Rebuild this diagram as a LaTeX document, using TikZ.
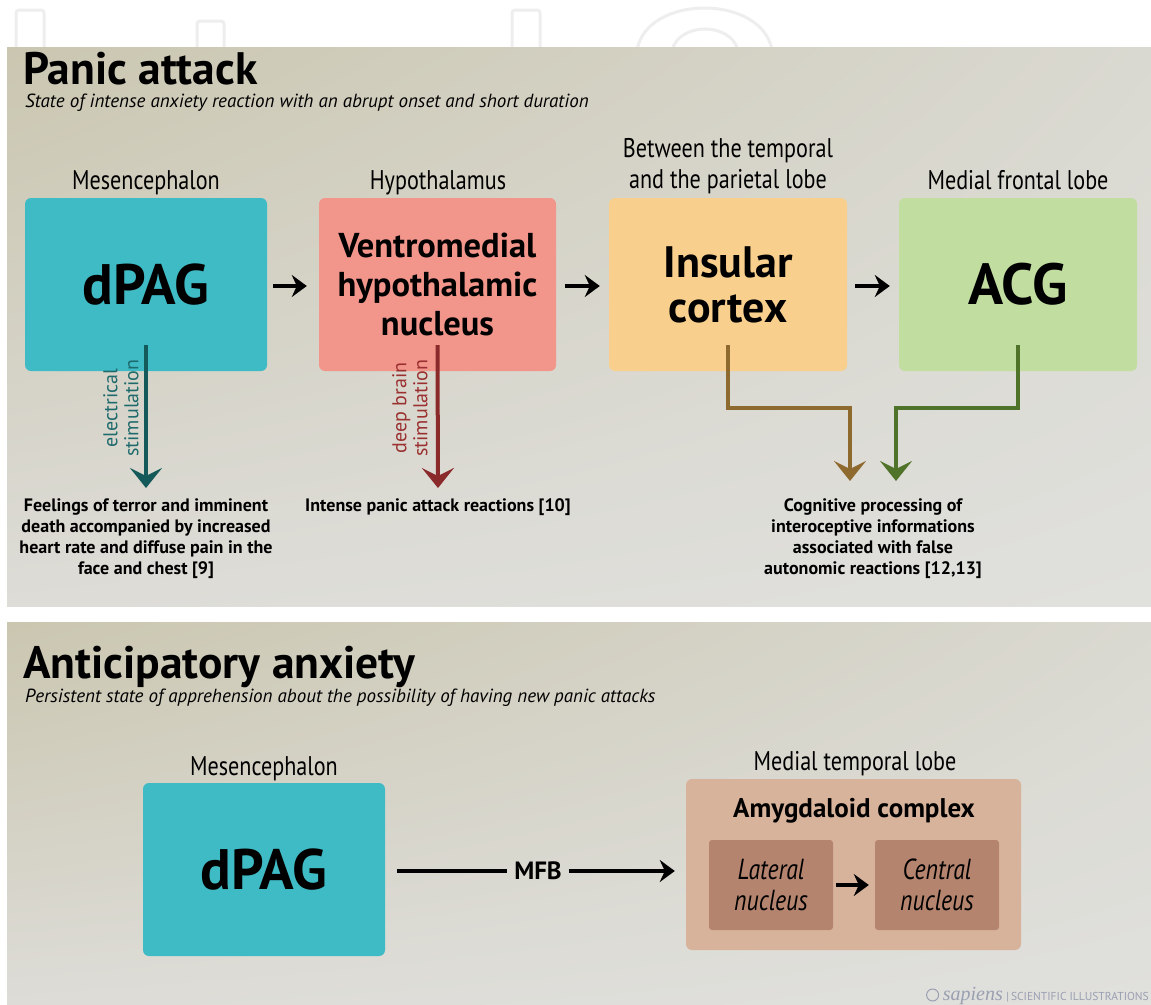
\documentclass[tikz,border=0pt]{standalone}
\usepackage{fontspec}
\setmainfont{PT Sans}
\newfontfamily\condfont[FakeStretch=0.82]{PT Sans}
\usetikzlibrary{arrows.meta,shadings}
\definecolor{cteal}{HTML}{3FBBC6}
\definecolor{csalmon}{HTML}{F2958B}
\definecolor{corange}{HTML}{F8CF8D}
\definecolor{cgreen}{HTML}{C1DD9F}
\definecolor{camyg}{HTML}{D8B39B}
\definecolor{cnuc}{HTML}{B5846E}
\definecolor{ateal}{HTML}{155A5B}
\definecolor{ared}{HTML}{8A2A2A}
\definecolor{abrown}{HTML}{8F6A2F}
\definecolor{agreen}{HTML}{4F7328}
\definecolor{tteal}{HTML}{1E6A6C}
\definecolor{tred}{HTML}{9A3030}
\definecolor{pA}{HTML}{CAC6B0}
\definecolor{pB}{HTML}{DAD9D1}
\definecolor{pC}{HTML}{DDDCD7}
\definecolor{pD}{HTML}{E0E0DD}
\definecolor{wm}{HTML}{EEEEEE}
\definecolor{credit}{HTML}{9AA0B2}
\tikzset{
  box/.style={rounded corners=6pt, inner sep=0pt, align=center, text=black},
  head/.style={font=\condfont\fontsize{27}{31}\selectfont, align=center, inner sep=0pt, text=black},
  res/.style={font=\bfseries\fontsize{18}{21}\selectfont, align=center, inner sep=0pt, text=black},
  vlab/.style={rotate=90, font=\fontsize{20}{21}\selectfont, align=center, inner sep=0pt},
  vline/.style={line width=4pt, -{Stealth[length=20pt, width=32pt, inset=8pt]}},
  blk/.style={line width=3.5pt, -{Stealth[length=15pt, width=22pt, inset=5pt]}},
}
\begin{document}
\begin{tikzpicture}[x=1pt,y=-1pt]
\useasboundingbox (0,0) rectangle (1151,1004);
\fill[white] (0,0) rectangle (1151,1004);
% faint watermark
\begin{scope}[draw=wm, line width=3pt]
\draw[rounded corners=3pt] (16,50) -- (16,10) -- (44,10) -- (44,50);
\draw[rounded corners=3pt] (197,50) -- (197,21) -- (224,21) -- (224,50);
\draw[rounded corners=3pt] (512,50) -- (512,10) -- (540,10) -- (540,50);
\draw (637,50) .. controls (647,-6) and (762,-6) .. (772,50);
\draw (672,50) .. controls (680,22) and (730,22) .. (738,50);
\end{scope}
% panels
\shade[upper left=pA, upper right=pB, lower left=pC, lower right=pD] (7,47) rectangle (1151,606);
\shade[upper left=pA, upper right=pB, lower left=pC, lower right=pD] (7,622) rectangle (1151,1004);

% ---------- Panic attack ----------
\node[anchor=base west, inner sep=0pt, font=\bfseries\fontsize{45.5}{45}\selectfont] (t1) at (23,84) {Panic attack};
\node[anchor=base west, inner sep=0pt, font=\itshape\fontsize{19}{19}\selectfont] (s1) at (25,107) {State of intense anxiety reaction with an abrupt onset and short duration};

\node[box, fill=cteal, minimum width=242pt, minimum height=173pt, font=\bfseries\fontsize{57}{57}\selectfont] (dpag) at (146,284.5) {dPAG};
\node[box, fill=csalmon, minimum width=237pt, minimum height=173pt, font=\bfseries\fontsize{34.5}{39}\selectfont] (vmh) at (437.5,284.5) {Ventromedial\\hypothalamic\\nucleus};
\node[box, fill=corange, minimum width=238pt, minimum height=173pt, font=\bfseries\fontsize{44}{45}\selectfont] (ins) at (728,284.5) {Insular\\cortex};
\node[box, fill=cgreen, minimum width=238pt, minimum height=173pt, font=\bfseries\fontsize{58}{58}\selectfont] (acg) at (1018,284.5) {ACG};

\node[head, anchor=base] (h1) at (146,189) {Mesencephalon};
\node[head, anchor=base] (h2) at (438,189) {Hypothalamus};
\node[head, anchor=south] (h3) at (728,194) {Between the temporal\\and the parietal lobe};
\node[head, anchor=base] (h4) at (1018,189) {Medial frontal lobe};

\draw[blk, shorten <=6pt, shorten >=12pt] ([yshift=-1.5pt]dpag.east) -- ([yshift=-1.5pt]vmh.west);
\draw[blk, shorten <=9pt, shorten >=9pt] ([yshift=-1.5pt]vmh.east) -- ([yshift=-1.5pt]ins.west);
\draw[blk, shorten <=8pt, shorten >=9pt] ([yshift=-1.5pt]ins.east) -- ([yshift=-1.5pt]acg.west);

\node[res, anchor=north] (r1) at (146,498) {Feelings of terror and imminent\\death accompanied by increased\\heart rate and diffuse pain in the\\face and chest [9]};
\node[res, anchor=north] (r2) at (438,498) {Intense panic attack reactions [10]};
\node[res, anchor=north] (r3) at (873,498) {Cognitive processing of\\interoceptive informations\\associated with false\\autonomic reactions [12,13]};

\draw[vline, draw=ateal, color=ateal] ([yshift=26pt]dpag.south) -- ([yshift=10pt]r1.north);
\draw[vline, draw=ared, color=ared] ([yshift=26pt]vmh.south) -- ([yshift=10pt]r2.north);
\node[vlab, text=tteal] (l1) at (121,408) {electrical\\stimulation};
\node[vlab, text=tred] (l2) at (410,408) {deep brain\\stimulation};

\draw[vline, draw=abrown, color=abrown] ([yshift=26pt]ins.south) -- ++(0,63) -| ([xshift=-23pt,yshift=17pt]r3.north);
\draw[vline, draw=agreen, color=agreen] ([yshift=26pt]acg.south) -- ++(0,63) -| ([xshift=23pt,yshift=17pt]r3.north);

% ---------- Anticipatory anxiety ----------
\node[anchor=base west, inner sep=0pt, font=\bfseries\fontsize{45.5}{45}\selectfont] (t2) at (23,678) {Anticipatory anxiety};
\node[anchor=base west, inner sep=0pt, font=\itshape\fontsize{19}{19}\selectfont] (s2) at (25,702) {Persistent state of apprehension about the possibility of having new panic attacks};

\node[box, fill=cteal, minimum width=242pt, minimum height=173pt, font=\bfseries\fontsize{57}{57}\selectfont] (dpag2) at (264,869.5) {dPAG};
\node[head, anchor=base] (h5) at (264,775) {Mesencephalon};
\node[box, fill=camyg, minimum width=335pt, minimum height=171pt] (amyg) at (853.5,864.5) {};
\node[head, anchor=base] (h6) at (855,770) {Medial temporal lobe};
\node[anchor=base, inner sep=0pt, font=\bfseries\fontsize{27}{27}\selectfont] (amt) at (854,817) {Amygdaloid complex};
\node[box, rounded corners=3pt, fill=cnuc, minimum width=124pt, minimum height=90pt, font=\condfont\itshape\fontsize{29}{31}\selectfont] (lat) at (771,885) {Lateral\\nucleus};
\node[box, rounded corners=3pt, fill=cnuc, minimum width=124pt, minimum height=90pt, font=\condfont\itshape\fontsize{29}{31}\selectfont] (cen) at (937,885) {Central\\nucleus};
\draw[blk, shorten <=3pt, shorten >=6pt] (lat.east) -- (cen.west);

\node[inner sep=0pt, font=\bfseries\fontsize{25}{25}\selectfont] (mfb) at (538,871) {MFB};
\draw[line width=3.5pt, shorten <=12pt, shorten >=7pt] (dpag2.east |- mfb) -- (mfb.west);
\draw[blk, shorten <=7pt, shorten >=11pt] (mfb.east) -- (amyg.west |- mfb);

% credit
\node[anchor=base east, inner sep=0pt, text=credit] (cr) at (1149,1000) {{\fontspec{Liberation Serif}\itshape\fontsize{20}{20}\selectfont sapiens}\,{\fontsize{11.5}{12}\selectfont\,|\,SCIENTIFIC ILLUSTRATIONS}};
\draw[credit, line width=1pt] ([xshift=-10pt,yshift=5pt]cr.base west) circle (6pt);
\end{tikzpicture}
\end{document}
